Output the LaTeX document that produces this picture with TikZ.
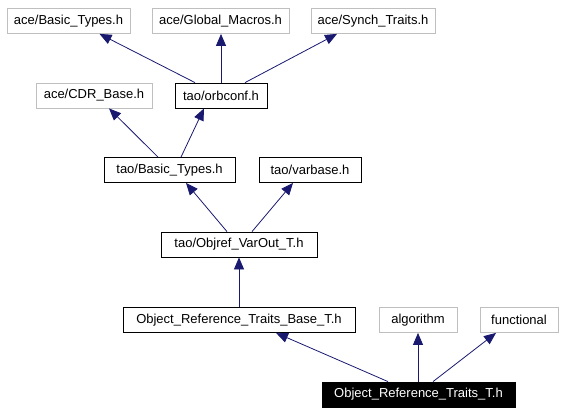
\documentclass[tikz,border=0pt]{standalone}
\usepackage{fontspec}
\setmainfont{Liberation Sans}
\usepackage{xcolor}
\usetikzlibrary{arrows.meta}
\definecolor{edgeblue}{HTML}{191970}
\definecolor{extgray}{HTML}{BFBFBF}
\tikzset{
	filebox/.style={draw=black, line width=0.8pt, minimum height=25pt, inner sep=0pt, font=\fontsize{13}{15}\selectfont},
	extbox/.style={filebox, draw=extgray},
	mainbox/.style={filebox, fill=black, text=white},
	dep/.style={draw=edgeblue, line width=0.8pt, -{Triangle[length=12pt,width=10pt]}}
}

\begin{document}
\begin{tikzpicture}[x=1pt, y=-1pt]
			\useasboundingbox (0, 0) rectangle (564, 413);
			
			%Level 1
			\node[extbox, minimum width=123pt] (aceBasic) at (68.5, 21) {ace/Basic\_Types.h};
			\node[extbox, minimum width=137pt] (aceGlobal) at (220.5, 21) {ace/Global\_Macros.h};
			\node[extbox, minimum width=124pt] (aceSynch) at (373, 21) {ace/Synch\_Traits.h};
			
			%Level 2
			\node[extbox, minimum width=116pt] (cdrBase) at (94, 95.5) {ace/CDR\_Base.h};
			\node[filebox, minimum width=92pt] (orbconf) at (221, 95.5) {tao/orbconf.h};
			
			%Level 3
			\node[filebox, minimum width=131pt] (taoBasic) at (169.5, 170) {tao/Basic\_Types.h};
			\node[filebox, minimum width=102pt] (varbase) at (310, 170) {tao/varbase.h};
			
			%Level 4
			\node[filebox, minimum width=156pt] (objref) at (239, 244.5) {tao/Objref\_VarOut\_T.h};
			
			%Level 5
			\node[filebox, minimum width=232pt] (traitsBase) at (239, 320) {Object\_Reference\_Traits\_Base\_T.h};
			\node[extbox, minimum width=78pt] (algorithm) at (418, 320) {algorithm};
			\node[extbox, minimum width=78pt] (functional) at (519, 320) {functional};
			
			%Level 6
			\node[mainbox, minimum width=193pt] (traits) at (418.5, 394.5) {Object\_Reference\_Traits\_T.h};
			
			%Lines
			\draw[dep] ([xshift=-26pt]orbconf.north) -- ([xshift=31pt]aceBasic.south);
			\draw[dep] (orbconf.north) -- (orbconf.north |- aceGlobal.south);
			\draw[dep] ([xshift=24pt]orbconf.north) -- ([xshift=-36pt]aceSynch.south);
			\draw[dep] ([xshift=-11.5pt]taoBasic.north) -- ([xshift=15pt]cdrBase.south);
			\draw[dep] ([xshift=11.5pt]taoBasic.north) -- ([xshift=-17pt]orbconf.south);
			\draw[dep] ([xshift=-12pt]objref.north) -- ([xshift=16.5pt]taoBasic.south);
			\draw[dep] ([xshift=13pt]objref.north) -- ([xshift=-17pt]varbase.south);
			\draw[dep] (traitsBase.north) -- (objref.south);
			\draw[dep] ([xshift=-30.5pt]traits.north) -- ([xshift=37pt]traitsBase.south);
			\draw[dep] (traits.north -| algorithm.south) -- (algorithm.south);
			\draw[dep] ([xshift=14.5pt]traits.north) -- ([xshift=-23pt]functional.south);
			\end{tikzpicture}
\end{document}
